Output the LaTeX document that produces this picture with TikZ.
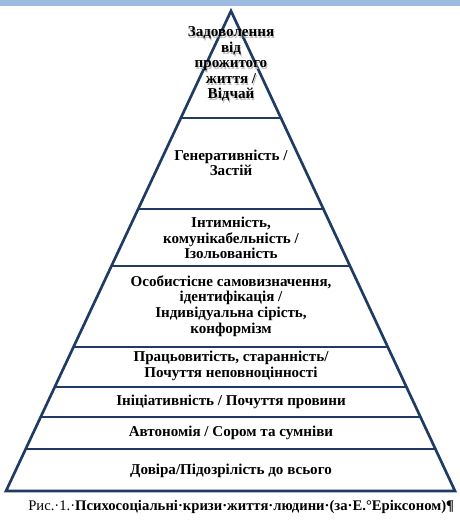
\documentclass[tikz,border=0pt]{standalone}
\usepackage{fontspec}
\setmainfont{Liberation Serif}
\usetikzlibrary{calc}
\definecolor{pyrline}{RGB}{31,58,99}
\definecolor{topband}{RGB}{157,187,225}
\tikzset{
  px/.style={x=0.75pt, y=-0.75pt},
  edge/.style={draw=pyrline, line width=2pt, line join=miter},
  tier/.style={draw=pyrline, line width=2pt},
  stage/.style={font=\fontsize{11.3}{11.7}\selectfont\bfseries, align=center, inner sep=0pt},
  capt/.style={font=\fontsize{11}{13}\selectfont, anchor=west, inner sep=0pt},
}
\begin{document}
\begin{tikzpicture}[px]
  \useasboundingbox (0,0) rectangle (460,528);
  \fill[topband] (0,0) rectangle (460,6);

  % pyramid outline
  \coordinate (apex) at (231,11);
  \coordinate (bl) at (6,491);
  \coordinate (br) at (455,491);
  \draw[edge] (bl) -- (apex) -- (br) -- cycle;

  % borders between the stages
  \foreach \yy [evaluate=\yy as \tt using (\yy-11)/480] in {118,209,266,347,387,417,449}
    \draw[tier] ($(apex)!\tt!(bl)$) -- ($(apex)!\tt!(br)$);

  \node[stage, text=black!25] at (232,66) {Задоволення\\від\\прожитого\\життя /\\Відчай};
  \node[stage] (s8) at (231,64) {Задоволення\\від\\прожитого\\життя /\\Відчай};
  \node[stage] (s7) at (231,163) {Генеративність /\\Застій};
  \node[stage] (s6) at (231,238) {Інтимність,\\комунікабельність /\\Ізольованість};
  \node[stage] (s5) at (231,306) {Особистісне самовизначення,\\ідентифікація /\\Індивідуальна сірість,\\конформізм};
  \node[stage] (s4) at (231,366) {Працьовитість, старанність/\\Почуття неповноцінності};
  \node[stage] (s3) at (231,402) {Ініціативність / Почуття провини};
  \node[stage] (s2) at (231,433) {Автономія / Сором та сумніви};
  \node[stage] (s1) at (231,471) {Довіра/Підозрілість до всього};

  \node[capt] (cap) at (28,507) {Рис.·1.·\textbf{Психосоціальні·кризи·життя·людини·(за·Е.°Еріксоном)¶}};
\end{tikzpicture}
\end{document}
